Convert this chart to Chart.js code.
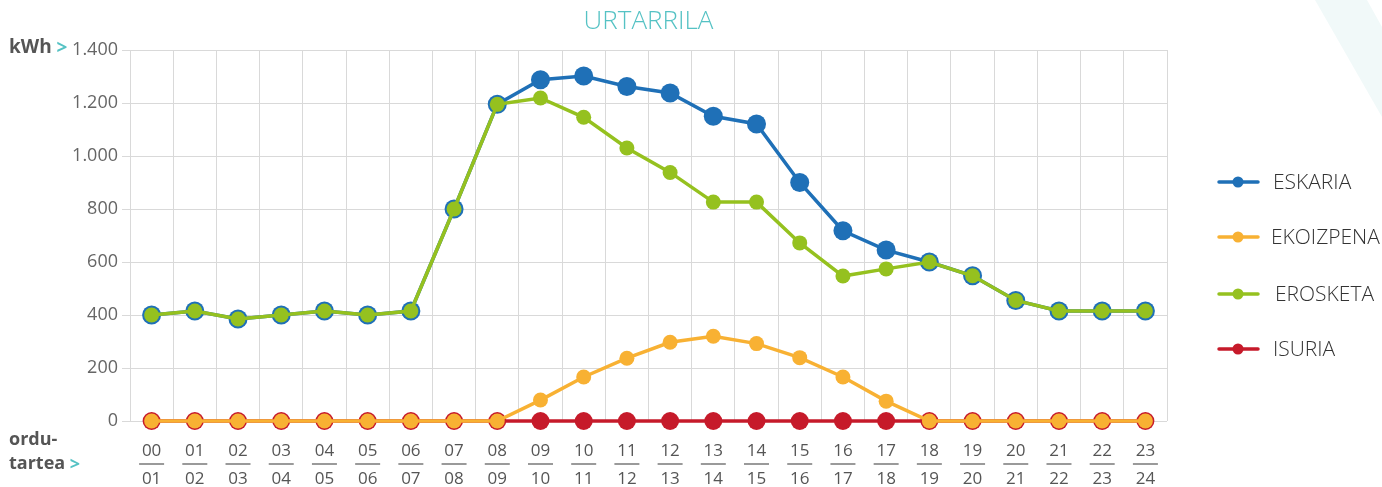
<!DOCTYPE html>
<html>
<head>
<meta charset="utf-8">
<script src="https://cdn.jsdelivr.net/npm/chart.js@4"></script>
<style>
  html, body { margin: 0; padding: 0; background: #fff; }
  #wrap { width: 1382px; height: 487px; position: relative; }
</style>
</head>
<body>
<div id="wrap"><canvas id="urtarrila"></canvas></div>
<script>
// data
const hourStart = ['00','01','02','03','04','05','06','07','08','09','10','11','12','13','14','15','16','17','18','19','20','21','22','23'];
const hourEnd = ['01','02','03','04','05','06','07','08','09','10','11','12','13','14','15','16','17','18','19','20','21','22','23','24'];
const eskaria = [400, 415, 385, 400, 415, 400, 415, 800, 1195, 1288, 1302, 1262, 1238, 1150, 1121, 900, 718, 645, 600, 548, 455, 415, 415, 415];
const ekoizpena = [0, 0, 0, 0, 0, 0, 0, 0, 0, 79, 166, 237, 297, 320, 292, 239, 166, 75, 0, 0, 0, 0, 0, 0];
const erosketa = [400, 415, 385, 400, 415, 400, 415, 800, 1195, 1219, 1146, 1030, 938, 826, 826, 672, 547, 574, 600, 548, 455, 415, 415, 415];
const isuria = [0, 0, 0, 0, 0, 0, 0, 0, 0, 0, 0, 0, 0, 0, 0, 0, 0, 0, 0, 0, 0, 0, 0, 0];
const yMin = 0, yMax = 1400, yStep = 200;

const BLUE = '#1f70b7';
const ORANGE = '#f8b133';
const GREEN = '#95c11f';
const RED = '#c61a2a';
const TEAL = '#55c2c4';
const GRID = '#d9d9d9';
const FONT = "'Open Sans', sans-serif";

function thousands(v) {
    return String(v).replace(/\B(?=(\d{3})+(?!\d))/g, '.');
}

// background stripe, axis captions, tick separators and the legend
const decorations = {
    id: 'decorations',
    beforeDraw(chart) {
        const c = chart.ctx;
        c.save();
        c.fillStyle = '#f1f9f9';
        c.beginPath();
        c.moveTo(1315, 0);
        c.lineTo(1367, 0);
        c.lineTo(1382, 27);
        c.lineTo(1382, 117);
        c.closePath();
        c.fill();
        c.restore();
    },
    afterDraw(chart) {
        const c = chart.ctx;
        const x = chart.scales.x;
        c.save();

        // little bars between "00" and "01"
        c.strokeStyle = '#9a9a9a';
        c.lineWidth = 2;
        hourStart.forEach((h, i) => {
            const px = x.getPixelForTick(i);
            c.beginPath();
            c.moveTo(px - 12.5, 464);
            c.lineTo(px + 12.5, 464);
            c.stroke();
        });

        // axis captions
        c.textBaseline = 'middle';
        c.textAlign = 'left';
        c.font = 'bold 19px ' + FONT;
        c.fillStyle = '#555';
        c.fillText('kWh', 9, 48);
        const kw = c.measureText('kWh ').width;
        c.fillStyle = TEAL;
        c.fillText('>', 9 + kw, 49);

        c.font = 'bold 18px ' + FONT;
        c.fillStyle = '#555';
        c.fillText('ordu-', 9, 440);
        c.fillText('tartea', 9, 464);
        const tw = c.measureText('tartea ').width;
        c.fillStyle = TEAL;
        c.fillText('>', 9 + tw, 465);

        // legend
        const items = [
            { label: 'ESKARIA', color: BLUE, y: 182, tx: 1273 },
            { label: 'EKOIZPENA', color: ORANGE, y: 237, tx: 1271 },
            { label: 'EROSKETA', color: GREEN, y: 294, tx: 1275 },
            { label: 'ISURIA', color: RED, y: 349, tx: 1273 }
        ];
        c.font = '300 21px ' + FONT;
        items.forEach(it => {
            c.strokeStyle = it.color;
            c.fillStyle = it.color;
            c.lineWidth = 3.5;
            c.lineCap = 'round';
            c.beginPath();
            c.moveTo(1219, it.y);
            c.lineTo(1258, it.y);
            c.stroke();
            c.beginPath();
            c.arc(1238, it.y, 5.5, 0, Math.PI * 2);
            c.fill();
            c.fillStyle = '#333';
            c.fillText(it.label, it.tx, it.y + 1);
        });
        c.restore();
    }
};

const ctx = document.getElementById('urtarrila');
new Chart(ctx, {
    type: 'line',
    data: {
        labels: hourStart,
        datasets: [{
            label: 'ESKARIA',
            data: eskaria,
            borderColor: BLUE,
            backgroundColor: BLUE,
            borderWidth: 3.5,
            pointRadius: 9.5,
            pointBorderWidth: 0,
            clip: false,
            order: 1
        }, {
            label: 'EKOIZPENA',
            data: ekoizpena,
            borderColor: ORANGE,
            backgroundColor: ORANGE,
            borderWidth: 3.5,
            pointRadius: 7.5,
            pointBorderWidth: 0,
            clip: false,
            order: 2
        }, {
            label: 'EROSKETA',
            data: erosketa,
            borderColor: GREEN,
            backgroundColor: GREEN,
            borderWidth: 3.5,
            pointRadius: 7.5,
            pointBorderWidth: 0,
            clip: false,
            order: 0
        }, {
            label: 'ISURIA',
            data: isuria,
            borderColor: RED,
            backgroundColor: RED,
            borderWidth: 3.5,
            pointRadius: 9,
            pointBorderWidth: 0,
            clip: false,
            order: 3
        }]
    },
    options: {
        responsive: true,
        maintainAspectRatio: false,
        animation: false,
        layout: {
            padding: { left: 0, right: 215, top: 0, bottom: 0 }
        },
        plugins: {
            legend: { display: false },
            tooltip: { enabled: false },
            title: {
                display: true,
                text: 'URTARRILA',
                fullSize: false,
                color: TEAL,
                font: { family: FONT, size: 26, weight: '300', lineHeight: 1.2 },
                padding: { top: 6, bottom: 12.8 }
            }
        },
        scales: {
            x: {
                offset: true,
                afterFit(scale) { scale.height = 66; },
                grid: {
                    offset: true,
                    color: GRID,
                    drawTicks: false
                },
                border: { display: false },
                ticks: {
                    color: '#555',
                    padding: 16,
                    maxRotation: 0,
                    autoSkip: false,
                    font: { family: FONT, size: 17, lineHeight: 1.65 },
                    callback: (v, i) => [hourStart[i], hourEnd[i]]
                }
            },
            y: {
                min: yMin,
                max: yMax,
                afterFit(scale) { scale.width = 130; },
                grid: {
                    color: GRID,
                    tickLength: 8
                },
                border: { color: GRID },
                ticks: {
                    stepSize: yStep,
                    color: '#666',
                    padding: 4,
                    font: { family: FONT, size: 18 },
                    callback: v => thousands(v)
                }
            }
        }
    },
    plugins: [decorations]
});
</script>
</body>
</html>
